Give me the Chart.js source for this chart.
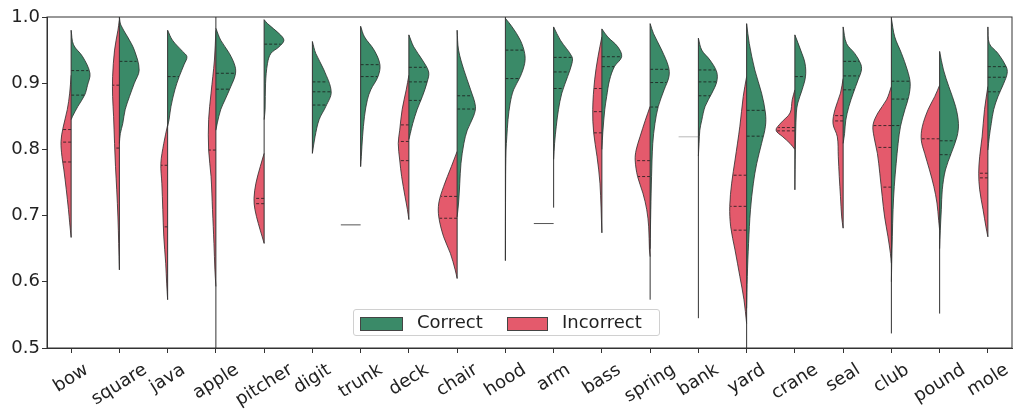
<!DOCTYPE html>
<html>
<head>
<meta charset="utf-8">
<script src="https://cdn.jsdelivr.net/npm/chart.js@4.4.1/dist/chart.umd.min.js"></script>
<style>
  html, body { margin: 0; padding: 0; background: #fff; }
  #wrap { position: relative; width: 1013px; height: 412px; }
  #legend {
    position: absolute; left: 353px; top: 309px; width: 305px; height: 25px;
    border: 1px solid #d0d0d0; border-radius: 3px; background: rgba(255,255,255,0.85);
    font-family: "DejaVu Sans", sans-serif; font-size: 18px; color: #222;
  }
  #legend .patch { position: absolute; top: 7px; height: 12px; border: 1px solid #444; }
  #legend .txt { position: absolute; top: 1px; line-height: 22px; }
</style>
</head>
<body>
<div id="wrap">
  <canvas id="myChart"></canvas>
  <div id="legend">
    <span class="patch" style="left:6px;width:41px;background:#3a8a68"></span>
    <span class="txt" style="left:63px">Correct</span>
    <span class="patch" style="left:153px;width:39px;background:#e45a6c"></span>
    <span class="txt" style="left:208px">Incorrect</span>
  </div>
</div>
<script>
const words = ["bow", "square", "java", "apple", "pitcher", "digit", "trunk", "deck", "chair", "hood",
  "arm", "bass", "spring", "bank", "yard", "crane", "seal", "club", "pound", "mole"];

const yTicks = [0.5, 0.6, 0.7, 0.8, 0.9, 1.0];

// [value, half width of the density] from top to bottom, per word
const correctProfiles = [
  [[0.980,0],[0.958,0.05],[0.940,0.24],[0.915,0.39],[0.897,0.34],[0.882,0.28],[0.865,0.14],[0.850,0.03],[0.845,0]],
  [[1.0,0],[0.988,0.03],[0.970,0.17],[0.950,0.31],[0.920,0.41],[0.900,0.31],[0.880,0.21],[0.860,0.12],[0.839,0.07],[0.824,0.02],[0.809,0]],
  [[0.980,0],[0.965,0.10],[0.948,0.31],[0.940,0.40],[0.928,0.34],[0.910,0.24],[0.890,0.15],[0.865,0.07],[0.845,0.03],[0.835,0]],
  [[0.983,0],[0.965,0.10],[0.945,0.28],[0.925,0.40],[0.912,0.40],[0.895,0.31],[0.875,0.19],[0.860,0.10],[0.840,0.03],[0.829,0]],
  [[0.996,0],[0.990,0.07],[0.975,0.31],[0.965,0.41],[0.955,0.31],[0.945,0.14],[0.930,0.07],[0.900,0.03],[0.860,0.02],[0.845,0]],
  [[0.963,0],[0.945,0.07],[0.920,0.24],[0.887,0.39],[0.865,0.28],[0.845,0.14],[0.819,0.055],[0.794,0]],
  [[0.986,0],[0.970,0.08],[0.950,0.28],[0.928,0.40],[0.910,0.36],[0.890,0.21],[0.875,0.14],[0.850,0.08],[0.819,0.04],[0.789,0.014],[0.774,0]],
  [[0.973,0],[0.955,0.10],[0.935,0.28],[0.917,0.41],[0.902,0.38],[0.880,0.28],[0.860,0.17],[0.839,0.08],[0.824,0.03],[0.815,0]],
  [[0.980,0],[0.950,0.03],[0.920,0.14],[0.890,0.28],[0.865,0.38],[0.850,0.34],[0.829,0.21],[0.809,0.14],[0.779,0.08],[0.749,0.055],[0.719,0.03],[0.698,0]],
  [[0.998,0],[0.985,0.14],[0.965,0.31],[0.945,0.40],[0.930,0.40],[0.910,0.31],[0.890,0.17],[0.870,0.10],[0.845,0.055],[0.819,0.03],[0.799,0.014],[0.750,0.005],[0.632,0]],
  [[0.985,0],[0.965,0.14],[0.940,0.38],[0.930,0.38],[0.910,0.29],[0.885,0.17],[0.860,0.10],[0.835,0.055],[0.809,0.02],[0.785,0]],
  [[0.982,0],[0.970,0.12],[0.955,0.33],[0.940,0.41],[0.925,0.26],[0.905,0.16],[0.880,0.10],[0.860,0.06],[0.826,0.02],[0.800,0]],
  [[0.990,0],[0.975,0.07],[0.950,0.24],[0.925,0.38],[0.910,0.39],[0.890,0.29],[0.865,0.17],[0.839,0.10],[0.809,0.055],[0.759,0.03],[0.709,0.014],[0.650,0]],
  [[0.968,0],[0.950,0.07],[0.935,0.24],[0.917,0.38],[0.902,0.38],[0.885,0.28],[0.865,0.14],[0.844,0.07],[0.829,0.03],[0.809,0.014],[0.790,0]],
  [[0.990,0],[0.960,0.055],[0.920,0.17],[0.885,0.31],[0.855,0.39],[0.835,0.39],[0.809,0.31],[0.779,0.21],[0.749,0.14],[0.709,0.08],[0.658,0.04],[0.608,0.014],[0.560,0]],
  [[0.973,0],[0.950,0.12],[0.930,0.21],[0.910,0.22],[0.890,0.15],[0.870,0.06],[0.855,0.03],[0.800,0.01],[0.739,0]],
  [[0.985,0],[0.960,0.07],[0.945,0.24],[0.930,0.36],[0.920,0.38],[0.905,0.31],[0.885,0.21],[0.865,0.12],[0.844,0.055],[0.824,0.03],[0.809,0]],
  [[0.998,0],[0.970,0.07],[0.945,0.21],[0.920,0.33],[0.900,0.39],[0.880,0.36],[0.860,0.28],[0.835,0.19],[0.809,0.14],[0.779,0.10],[0.744,0.06],[0.709,0.035],[0.668,0.02],[0.628,0.007],[0.600,0]],
  [[0.948,0],[0.920,0.08],[0.895,0.19],[0.865,0.33],[0.839,0.39],[0.819,0.36],[0.794,0.24],[0.769,0.12],[0.739,0.055],[0.709,0.035],[0.678,0.014],[0.650,0]],
  [[0.985,0],[0.960,0.03],[0.945,0.21],[0.925,0.38],[0.915,0.40],[0.900,0.33],[0.880,0.21],[0.860,0.12],[0.839,0.07],[0.819,0.03],[0.799,0]]
];

const incorrectProfiles = [
  [[0.912,0],[0.885,0.03],[0.860,0.08],[0.832,0.17],[0.812,0.21],[0.789,0.19],[0.769,0.15],[0.739,0.10],[0.709,0.055],[0.689,0.03],[0.667,0]],
  [[0.995,0],[0.980,0.03],[0.950,0.10],[0.910,0.14],[0.880,0.14],[0.850,0.12],[0.809,0.10],[0.774,0.08],[0.739,0.055],[0.698,0.03],[0.658,0.014],[0.618,0]],
  [[0.837,0],[0.809,0.08],[0.779,0.14],[0.749,0.12],[0.709,0.10],[0.669,0.08],[0.628,0.04],[0.598,0.02],[0.573,0]],
  [[0.980,0],[0.935,0.03],[0.885,0.10],[0.845,0.15],[0.799,0.15],[0.759,0.10],[0.709,0.07],[0.658,0.04],[0.618,0.02],[0.593,0]],
  [[0.794,0],[0.774,0.08],[0.749,0.17],[0.726,0.21],[0.709,0.19],[0.688,0.12],[0.668,0.04],[0.658,0]],
  [],
  [],
  [[0.912,0],[0.890,0.055],[0.860,0.14],[0.829,0.19],[0.809,0.22],[0.784,0.19],[0.759,0.15],[0.729,0.08],[0.709,0.03],[0.694,0]],
  [[0.797,0],[0.774,0.12],[0.744,0.28],[0.719,0.38],[0.698,0.38],[0.668,0.28],[0.643,0.14],[0.618,0.04],[0.605,0]],
  [],
  [],
  [[0.970,0],[0.940,0.08],[0.905,0.15],[0.860,0.19],[0.825,0.17],[0.789,0.10],[0.749,0.04],[0.674,0]],
  [[0.865,0],[0.844,0.10],[0.819,0.21],[0.799,0.29],[0.784,0.31],[0.759,0.26],[0.734,0.15],[0.709,0.07],[0.683,0.03],[0.648,0.014],[0.638,0]],
  [],
  [[0.910,0],[0.880,0.07],[0.835,0.14],[0.784,0.24],[0.749,0.31],[0.714,0.35],[0.683,0.33],[0.648,0.24],[0.608,0.14],[0.573,0.055],[0.537,0]],
  [[0.890,0],[0.875,0.055],[0.855,0.10],[0.840,0.29],[0.829,0.39],[0.819,0.25],[0.809,0.10],[0.800,0]],
  [[0.907,0],[0.885,0.055],[0.860,0.17],[0.839,0.21],[0.819,0.12],[0.789,0.10],[0.759,0.08],[0.729,0.055],[0.698,0.03],[0.681,0]],
  [[0.895,0],[0.875,0.10],[0.855,0.28],[0.837,0.38],[0.819,0.36],[0.794,0.29],[0.764,0.24],[0.729,0.19],[0.698,0.14],[0.668,0.07],[0.643,0.02],[0.628,0]],
  [[0.897,0],[0.880,0.10],[0.860,0.24],[0.834,0.36],[0.814,0.38],[0.794,0.31],[0.769,0.21],[0.744,0.12],[0.719,0.055],[0.693,0.02],[0.678,0]],
  [[0.895,0],[0.860,0.07],[0.819,0.12],[0.789,0.17],[0.764,0.19],[0.739,0.17],[0.709,0.10],[0.683,0.04],[0.668,0]]
];

// quartile lines that can be seen inside each half
const correctLines = [
  [0.919,0.882], [0.933], [0.910], [0.915,0.891], [0.959], [0.902,0.887,0.867], [0.928,0.910],
  [0.924,0.902,0.874], [0.881,0.861], [0.950,0.907], [0.939,0.917,0.892], [0.940,0.925],
  [0.921,0.901,0.864], [0.920,0.902,0.881], [0.859,0.820], [0.910], [0.933,0.911,0.890],
  [0.903,0.876,0.836], [0.813,0.792], [0.925,0.909,0.887]
];
const incorrectLines = [
  [0.830,0.811,0.781], [0.897,0.802], [0.776,0.683], [0.799], [0.726,0.718], [], [], [0.837,0.812,0.783],
  [0.729,0.696], [], [], [0.892,0.857,0.825], [0.783,0.759], [], [0.761,0.714,0.678], [0.833,0.828],
  [0.851,0.843], [0.836,0.803,0.743], [0.816], [0.764,0.757]
];

// incorrect groups holding a single value
const incorrectSingles = [null, null, null, null, null, null, 0.686, null, null, null,
  0.688, null, null, 0.819, null, null, null, null, null, null];

// extent of the thin centre line of each violin
const stemLow = [0.667, 0.618, 0.573, 0.5, 0.658, 0.794, 0.774, 0.694, 0.605, 0.632,
  0.712, 0.674, 0.573, 0.545, 0.5, 0.739, 0.681, 0.522, 0.552, 0.668];
const stemHigh = [0.980, 1.0, 0.980, 1.0, 0.996, 0.963, 0.986, 0.973, 0.980, 1.0,
  0.985, 0.982, 0.990, 0.968, 0.990, 0.973, 0.985, 1.0, 0.948, 0.985];

const verde = "#3a8a68";
const rojo = "#e45a6c";
const borde = "#2b2b2b";
const halfSlot = 0.41;

function anchoEn(perfil, v) {
  for (let k = 0; k < perfil.length - 1; k++) {
    const a = perfil[k], b = perfil[k + 1];
    if (v <= a[0] && v >= b[0]) {
      const t = (a[0] - v) / (a[0] - b[0]);
      return a[1] + (b[1] - a[1]) * t;
    }
  }
  return 0;
}

const datasets = [];

words.forEach((w, i) => {
  [[correctProfiles[i], 1, verde, correctLines[i]], [incorrectProfiles[i], -1, rojo, incorrectLines[i]]].forEach(([perfil, lado, color, lineas]) => {
    if (!perfil.length) return;
    datasets.push({
      data: perfil.map((p) => ({ x: i + lado * p[1], y: p[0] })),
      showLine: true,
      fill: "shape",
      backgroundColor: color,
      borderColor: borde,
      borderWidth: 0.8,
      tension: 0.35,
      pointRadius: 0,
      order: 2,
    });
    lineas.forEach((q) => {
      datasets.push({
        data: [{ x: i, y: q }, { x: i + lado * anchoEn(perfil, q) * 0.97, y: q }],
        showLine: true,
        borderColor: "#1a1a1a",
        borderWidth: 0.8,
        borderDash: [3, 2],
        pointRadius: 0,
        order: 1,
      });
    });
  });

  if (incorrectSingles[i] !== null) {
    datasets.push({
      data: [{ x: i - halfSlot, y: incorrectSingles[i] }, { x: i, y: incorrectSingles[i] }],
      showLine: true,
      borderColor: i === 13 ? "#b8b8b8" : "#555",
      borderWidth: 1,
      pointRadius: 0,
      order: 1,
    });
  }

  datasets.push({
    data: [{ x: i, y: stemLow[i] }, { x: i, y: stemHigh[i] }],
    showLine: true,
    borderColor: "#333",
    borderWidth: 1,
    pointRadius: 0,
    order: 0,
  });
});

const etiquetas = {
  id: "etiquetas",
  afterDraw(chart) {
    const ctx = chart.ctx;
    const area = chart.chartArea;
    const ang = 32 * Math.PI / 180;
    ctx.save();
    ctx.font = "18px 'DejaVu Sans'";
    ctx.fillStyle = "#222";
    ctx.textAlign = "center";
    ctx.textBaseline = "middle";
    words.forEach((w, i) => {
      const x = chart.scales.x.getPixelForValue(i);
      const W = ctx.measureText(w).width;
      const H = 20;
      const bh = W * Math.sin(ang) + H * Math.cos(ang);
      ctx.save();
      ctx.translate(x, area.bottom + 12 + bh / 2);
      ctx.rotate(-ang);
      ctx.fillText(w, 0, 0);
      ctx.restore();
    });
    ctx.strokeStyle = "#333";
    ctx.lineWidth = 1;
    ctx.strokeRect(area.left, area.top, area.right - area.left, area.bottom - area.top);
    ctx.restore();
  },
};

const llamadoGrafico = document.querySelector("#myChart").getContext("2d");

const myChart = new Chart(llamadoGrafico, {
  type: "scatter",
  data: { datasets: datasets },
  options: {
    responsive: true,
    maintainAspectRatio: false,
    animation: false,
    layout: { padding: { top: 17, right: 1, left: 0, bottom: 0 } },
    plugins: {
      legend: { display: false },
      tooltip: { enabled: false },
    },
    scales: {
      x: {
        type: "linear",
        min: -0.5,
        max: 19.5,
        afterBuildTicks: (scale) => {
          scale.ticks = words.map((w, i) => ({ value: i }));
        },
        afterFit: (scale) => {
          scale.height = 64;
        },
        ticks: { display: false },
        grid: { drawOnChartArea: false, tickLength: 5, color: "#333" },
        border: { color: "#333" },
      },
      y: {
        min: 0.5,
        max: 1.0,
        afterBuildTicks: (scale) => {
          scale.ticks = yTicks.map((v) => ({ value: v }));
        },
        afterFit: (scale) => {
          scale.width = 47;
        },
        ticks: {
          padding: 2,
          color: "#222",
          font: { family: "DejaVu Sans", size: 18 },
          callback: (v) => Number(v).toFixed(1),
        },
        grid: { drawOnChartArea: false, tickLength: 5, color: "#333" },
        border: { color: "#333" },
      },
    },
  },
  plugins: [etiquetas],
});
</script>
</body>
</html>
